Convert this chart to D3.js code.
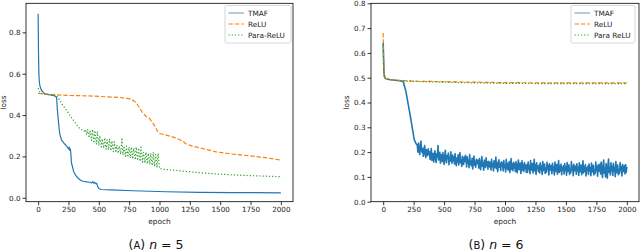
<!DOCTYPE html>
<html><head><meta charset="utf-8">
<script src="https://cdn.jsdelivr.net/npm/d3@7"></script>
<style>
body{margin:0;background:#fff;}
svg text{font-family:"DejaVu Sans",sans-serif;}
</style></head>
<body><svg id="c" width="640" height="252"></svg>
<script>
// ---------- DATA ----------
const seriesNames = ["TMAF", "ReLU", "Para-ReLU"];
const seriesNamesB = ["TMAF", "ReLU", "Para ReLU"];
const xTicks = [0, 250, 500, 750, 1000, 1250, 1500, 1750, 2000];
const yTicksA = [0.0, 0.2, 0.4, 0.6, 0.8];
const yTicksB = [0.0, 0.1, 0.2, 0.3, 0.4, 0.5, 0.6, 0.7, 0.8];

// Panel A (n = 5): [epoch, loss]
const tmafA = [[0,0.89],[3,0.7],[6,0.6],[10,0.56],[15,0.54],[27,0.52],[50,0.505],[100,0.497],[140,0.492],[152,0.485],[158,0.43],[164,0.39],[172,0.34],[178,0.31],[192,0.28],[205,0.27],[219,0.26],[235,0.25],[247,0.24],[252,0.235],[256,0.245],[260,0.23],[266,0.235],[270,0.21],[274,0.17],[283,0.15],[293,0.126],[310,0.108],[329,0.094],[350,0.085],[370,0.08],[400,0.077],[425,0.075],[440,0.072],[450,0.078],[458,0.07],[466,0.075],[474,0.068],[482,0.07],[490,0.055],[500,0.045],[520,0.04],[600,0.038],[781,0.034],[1055,0.029],[1329,0.026],[1600,0.025],[2000,0.024]];
const reluA = [[0,0.505],[100,0.5],[233,0.495],[400,0.493],[507,0.49],[671,0.485],[767,0.478],[808,0.46],[840,0.43],[863,0.41],[890,0.393],[918,0.384],[940,0.365],[959,0.35],[980,0.325],[1000,0.311],[1055,0.303],[1120,0.292],[1164,0.282],[1200,0.27],[1219,0.26],[1270,0.25],[1329,0.242],[1400,0.232],[1466,0.222],[1603,0.211],[1740,0.203],[1870,0.194],[2000,0.182]];
const paraA = [[0,0.53],[10,0.515],[20,0.505],[50,0.5],[100,0.498],[150,0.495],[175,0.475],[200,0.45],[233,0.424],[260,0.4],[288,0.378],[315,0.355],[342,0.335],[370,0.325],
[380,0.322],[388,0.33],[400,0.305],[408,0.33],[420,0.29],[428,0.325],[440,0.277],[448,0.33],[460,0.265],[468,0.325],[480,0.258],[488,0.32],
[500,0.252],[508,0.3],[520,0.246],[528,0.285],[540,0.24],[548,0.29],[560,0.235],[568,0.28],[580,0.231],[588,0.285],[600,0.227],[608,0.275],
[620,0.223],[628,0.27],[640,0.219],[648,0.255],[660,0.215],[668,0.25],[680,0.211],[690,0.29],[700,0.207],[708,0.25],[720,0.2],[728,0.25],
[740,0.196],[748,0.245],[760,0.192],[768,0.245],[780,0.188],[788,0.24],[800,0.184],[808,0.245],[820,0.18],[828,0.24],[840,0.176],[848,0.245],
[860,0.172],[868,0.22],[880,0.168],[888,0.22],[900,0.164],[908,0.215],[920,0.16],[928,0.215],[940,0.156],[948,0.22],[960,0.151],[968,0.21],
[980,0.146],[988,0.215],[1000,0.141],
[1050,0.137],[1192,0.129],[1300,0.123],[1466,0.115],[1700,0.108],[2000,0.102]];

// Panel B (n = 6)
const tmafBHead = [[0,0.64],[3,0.58],[6,0.53],[10,0.505],[20,0.497],[50,0.493],[100,0.49],[150,0.487],[165,0.484],[187,0.444],[209,0.383],[228,0.33],[242,0.289],[255,0.25],[269,0.235]];
const tmafBNoiseStart = 280, tmafBNoiseStep = 5;
// loss values x1000, one every 5 epochs from epoch 280 to 2000
const tmafBNoise = [
228,200,236,212,190,221,245,205,198,215,183,207,226,194,178,210,199,186,213,192,
201,170,189,214,166,178,195,160,187,205,172,158,193,181,226,168,176,199,155,184,
190,162,198,171,150,183,207,168,157,186,174,196,149,178,163,201,170,155,188,166,
181,152,194,163,145,176,160,189,148,171,198,157,168,142,183,165,150,179,161,187,
172,140,181,155,166,137,190,150,163,144,175,132,158,184,147,162,139,171,153,168,
166,135,174,148,129,159,182,143,156,127,168,150,138,177,145,160,131,163,149,140,
160,128,171,142,153,124,165,137,149,180,133,158,121,147,169,139,152,126,161,144,
157,124,166,138,149,120,171,133,155,127,146,162,118,141,174,130,152,125,159,136,
153,121,162,135,117,148,168,129,143,156,114,139,165,127,150,122,158,134,147,119,
150,118,160,131,145,113,166,127,140,154,116,137,171,124,149,110,157,133,142,121,
148,116,157,129,143,110,162,125,138,152,114,135,119,159,131,146,108,153,127,141,
146,113,155,127,140,108,160,122,136,150,111,133,166,118,144,124,152,109,139,128,
145,112,154,126,139,107,158,121,135,149,110,131,117,162,128,143,105,151,124,137,
144,111,153,125,138,106,157,120,134,148,109,130,165,116,142,123,150,104,136,127,
143,110,152,124,137,105,156,119,133,147,108,129,114,160,126,141,103,149,122,135,
152,112,160,121,98,143,168,115,135,100,154,127,95,146,172,118,139,108,157,124,
143,106,155,123,138,101,162,117,134,148,109,130,114,158,126,141,104,150,121,137,
145,112,150,118,140];
const reluB = [[0,0.68],[3,0.6],[6,0.53],[10,0.503],[20,0.497],[50,0.493],[100,0.49],[250,0.486],[500,0.484],[750,0.482],[1000,0.48],[1500,0.479],[2000,0.479]];
const paraB = [[0,0.64],[3,0.57],[6,0.52],[10,0.5],[20,0.495],[50,0.492],[100,0.489],[250,0.485],[500,0.482],[750,0.479],[1000,0.477],[1500,0.476],[2000,0.476]];

const tmafB = tmafBHead.concat(tmafBNoise.map((v,i)=>[tmafBNoiseStart + i*tmafBNoiseStep, v/1000]));

// ---------- DRAW ----------
const colors = ["#1f77b4", "#ff7f0e", "#2ca02c"];
const dashes = [null, "4.4,1.9", "1.2,2"];
const svg = d3.select("#c");

function panel(opt){
  const {x0,x1,y0,y1,ydom,yticks,series,names,letter,num} = opt;
  const x = d3.scaleLinear().domain([-100,2100]).range([x0,x1]);
  const y = d3.scaleLinear().domain(ydom).range([y1,y0]);
  const g = svg.append("g");
  const clipId = "clip"+letter;
  svg.append("clipPath").attr("id",clipId).append("rect").attr("x",x0).attr("y",y0).attr("width",x1-x0).attr("height",y1-y0);
  const line = d3.line().x(d=>x(d[0])).y(d=>y(d[1]));
  series.forEach((s,i)=>{
    g.append("path").attr("d",line(s)).attr("fill","none")
      .attr("stroke",colors[i]).attr("stroke-width",i===0?opt.tmafW:1.2)
      .attr("stroke-dasharray",dashes[i]).attr("clip-path",`url(#${clipId})`)
      .attr("stroke-linejoin","round");
  });
  const xa = g.append("g").attr("transform",`translate(0,${y1})`)
    .call(d3.axisBottom(x).tickValues(xTicks).tickSize(3.5).tickPadding(2).tickFormat(d3.format("d")));
  const ya = g.append("g").attr("transform",`translate(${x0},0)`)
    .call(d3.axisLeft(y).tickValues(yticks).tickSize(3.5).tickPadding(2).tickFormat(d3.format(".1f")));
  [xa,ya].forEach(a=>{
    a.select(".domain").remove();
    a.selectAll("line").attr("stroke","#000").attr("stroke-width",0.8);
    a.selectAll("text").attr("font-size",7.2).attr("fill","#222").attr("font-family","DejaVu Sans");
  });
  g.append("rect").attr("x",x0).attr("y",y0).attr("width",x1-x0).attr("height",y1-y0)
    .attr("fill","none").attr("stroke","#000").attr("stroke-width",0.8);
  g.append("text").attr("x",(x0+x1)/2).attr("y",224).attr("text-anchor","middle")
    .attr("font-size",7.4).attr("fill","#222").text("epoch");
  g.append("text").attr("transform",`translate(${opt.lossX},${(y0+y1)/2}) rotate(-90)`)
    .attr("text-anchor","middle").attr("font-size",7.4).attr("fill","#222").text("loss");
  const lx = opt.legX, lw = opt.legW;
  g.append("rect").attr("x",lx).attr("y",5.5).attr("width",lw).attr("height",37.5).attr("rx",1.5)
    .attr("fill","#fff").attr("fill-opacity",0.8).attr("stroke","#cccccc").attr("stroke-width",0.8);
  names.forEach((n,i)=>{
    const yy = 13 + i*11;
    g.append("line").attr("x1",lx+3.5).attr("x2",lx+19).attr("y1",yy).attr("y2",yy)
      .attr("stroke",colors[i]).attr("stroke-width",1.2).attr("stroke-dasharray",dashes[i])
      .attr("stroke-opacity", i===0?0.6:1);
    g.append("text").attr("x",lx+23).attr("y",yy+2.6).attr("font-size",7.3).attr("fill","#222").text(n);
  });
  const cap = g.append("text").attr("x",opt.capX).attr("y",249).attr("text-anchor","middle")
    .attr("font-family","Liberation Serif, DejaVu Serif, serif").attr("font-size",12.5).attr("fill","#111");
  cap.append("tspan").text("(");
  cap.append("tspan").attr("font-size",10).text(letter);
  cap.append("tspan").text(") ");
  cap.append("tspan").attr("font-style","italic").text("n");
  cap.append("tspan").text(" = " + num);
}

panel({x0:26,x1:293,y0:3.3,y1:201.7,ydom:[-0.019,0.9405],yticks:yTicksA,series:[tmafA,reluA,paraA],
  names:seriesNames,letter:"A",num:"5",capX:156,lossX:6,legX:225,legW:66,tmafW:1.2});
panel({x0:371,x1:639,y0:3.3,y1:201.7,ydom:[0,0.8],yticks:yTicksB,series:[tmafB,reluB,paraB],
  names:seriesNamesB,letter:"B",num:"6",capX:496,lossX:349,legX:571,legW:64,tmafW:1.6});
</script></body></html>
